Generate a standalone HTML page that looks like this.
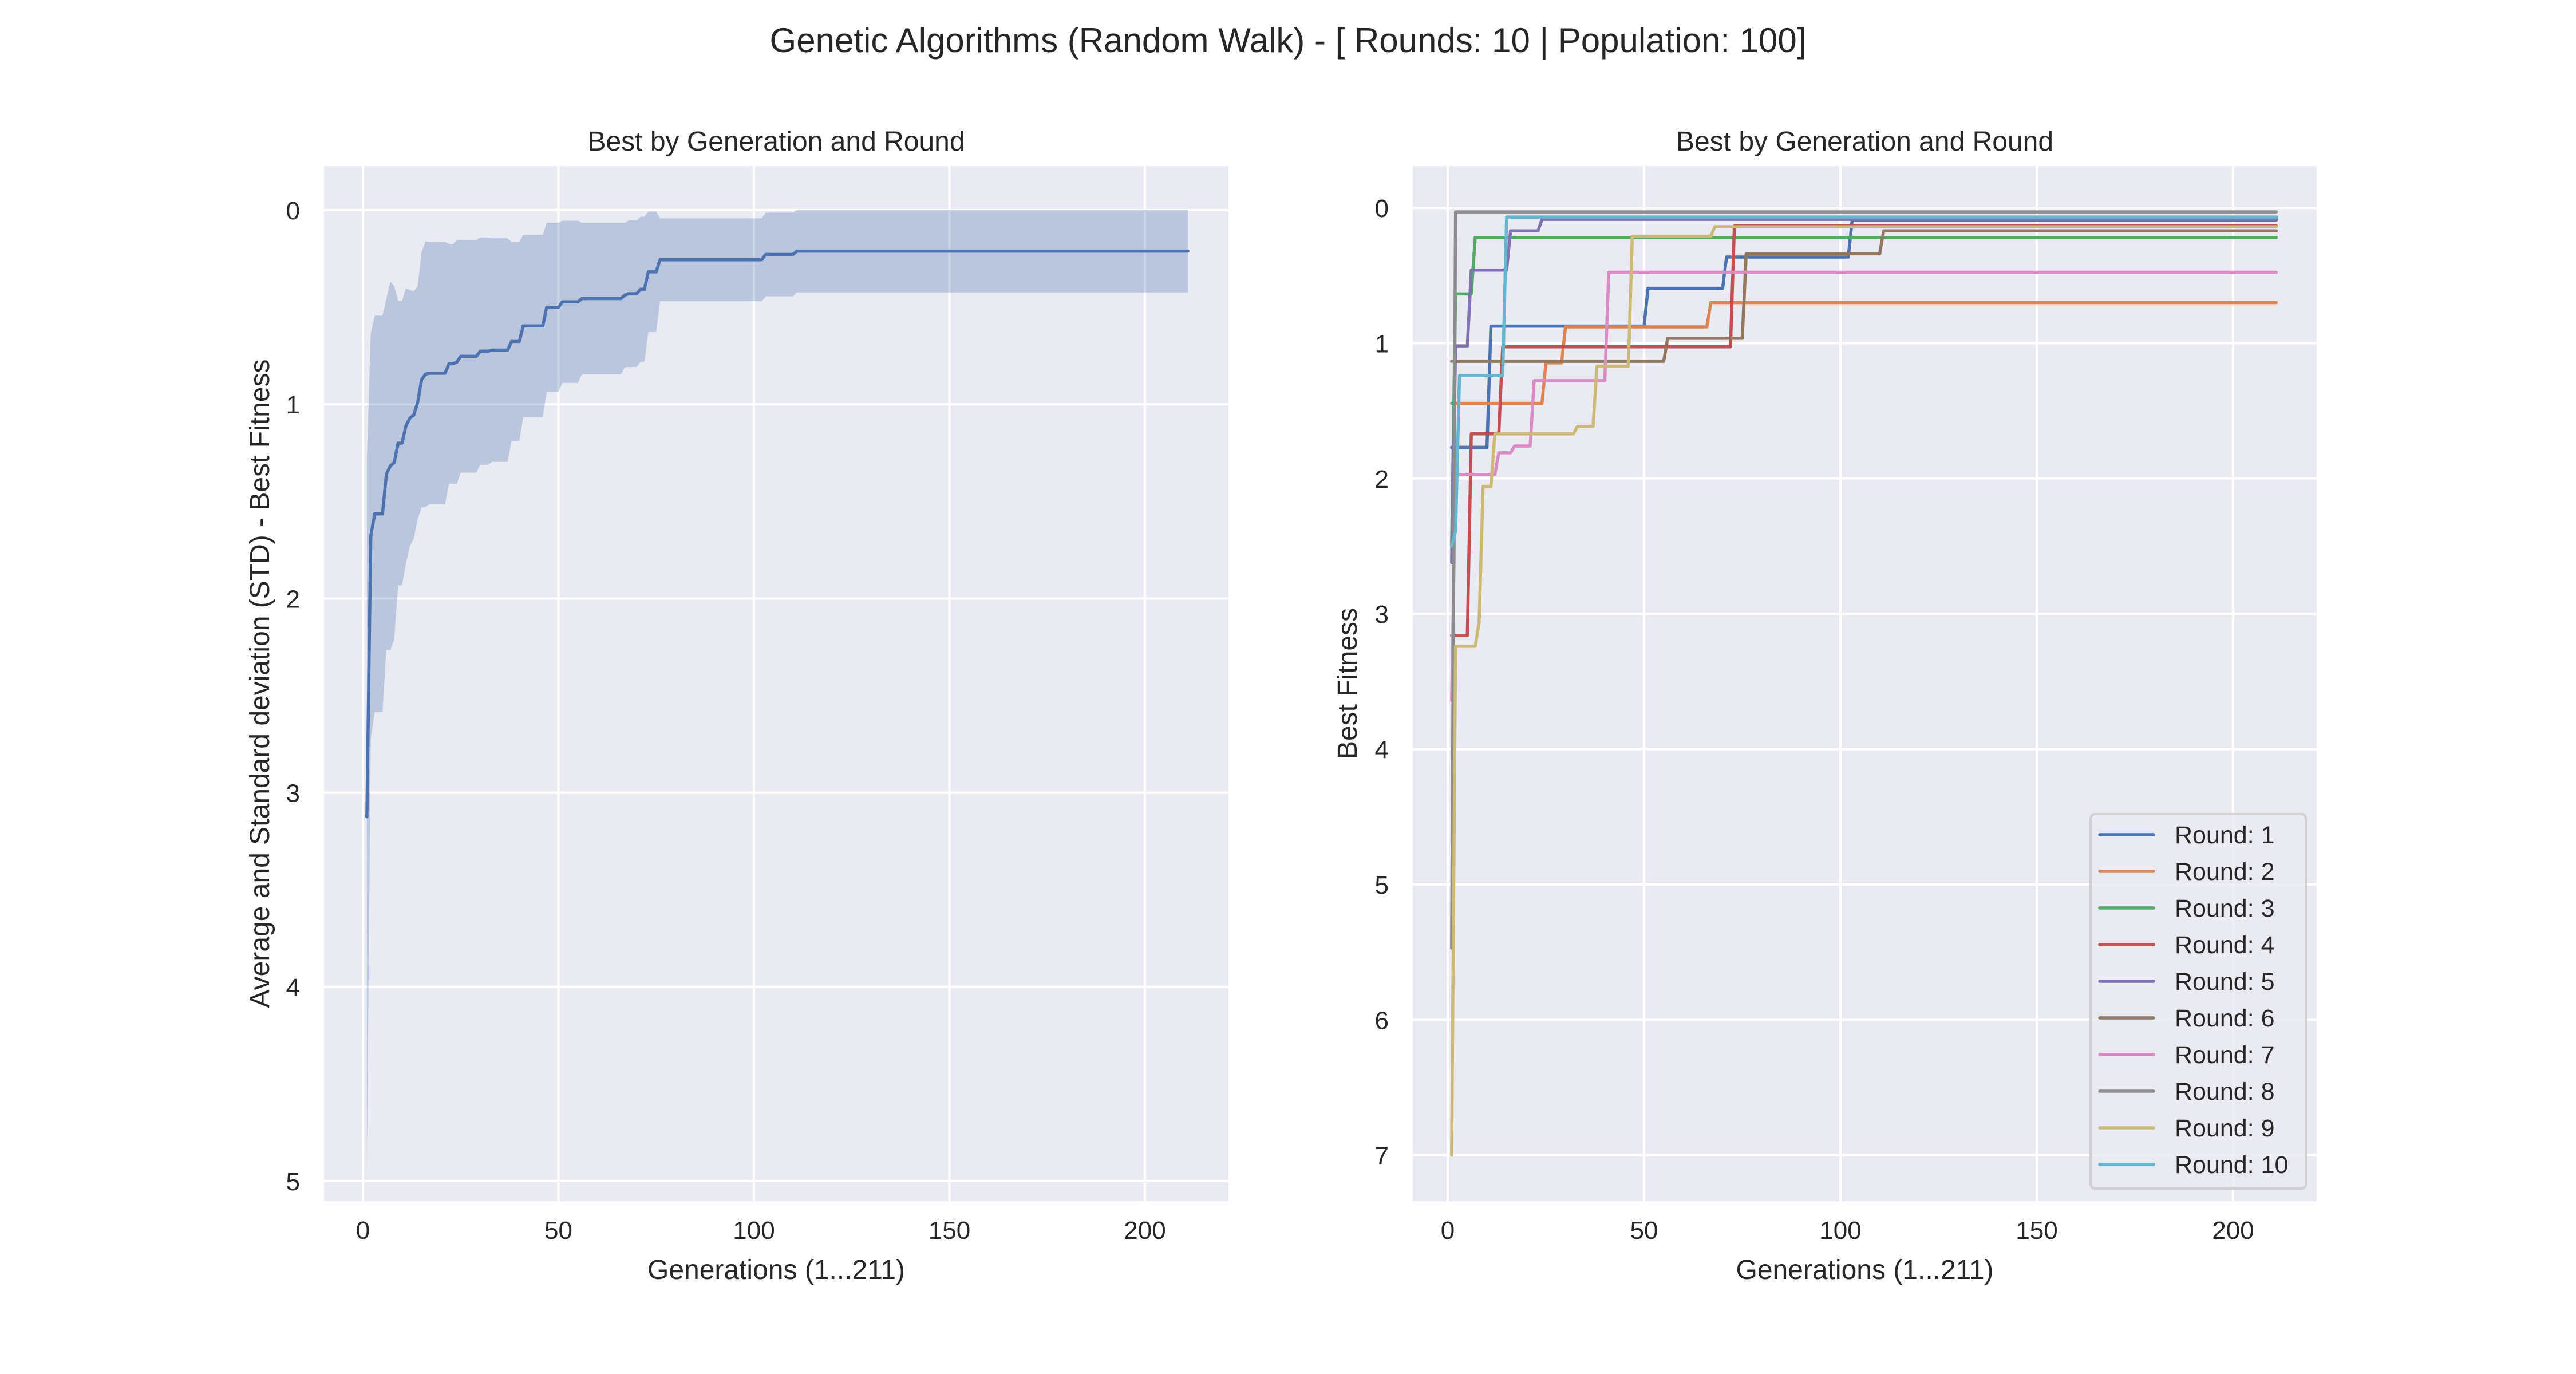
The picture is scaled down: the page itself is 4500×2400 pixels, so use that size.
<!DOCTYPE html>
<html><head><meta charset="utf-8"><title>Genetic Algorithms chart</title>
<style>html,body{margin:0;padding:0;background:#fff;}svg{display:block;font-family:"Liberation Sans",sans-serif;}</style>
</head><body>
<svg id="fig" xmlns="http://www.w3.org/2000/svg" width="4500" height="2400" viewBox="0 0 4500 2400">
<rect width="4500" height="2400" fill="#ffffff"/>
<text x="2250" y="91" font-size="60" fill="#262626" text-anchor="middle">Genetic Algorithms (Random Walk) - [ Rounds: 10 | Population: 100]</text>
</svg>
<script>
// ---- data: step change points (generation, best fitness) per round ----
const r1Gens=[1,11,51,71,103];      const r1Vals=[1.77,0.874,0.595,0.364,0.09];
const r2Gens=[1,25,30,67];          const r2Vals=[1.445,1.146,0.88,0.70];
const r3Gens=[1,2,7];               const r3Vals=[2.5,0.636,0.219];
const r4Gens=[1,6,14,73];           const r4Vals=[3.16,1.67,1.027,0.134];
const r5Gens=[1,2,6,16,24];         const r5Vals=[2.62,1.02,0.46,0.17,0.085];
const r6Gens=[1,56,76,111];         const r6Vals=[1.134,0.964,0.34,0.17];
const r7Gens=[1,2,13,17,22,41];     const r7Vals=[3.64,1.97,1.81,1.76,1.277,0.476];
const r8Gens=[1,2];                 const r8Vals=[5.47,0.03];
const r9Gens=[1,2,8,9,12,33,38,47,68]; const r9Vals=[7.0,3.24,3.06,2.06,1.67,1.615,1.17,0.21,0.14];
const r10Gens=[1,2,3,15];           const r10Vals=[2.5,2.39,1.24,0.068];
const roundLabels=["Round: 1","Round: 2","Round: 3","Round: 4","Round: 5","Round: 6","Round: 7","Round: 8","Round: 9","Round: 10"];
const numGenerations=211;
const xTicks=[0,50,100,150,200];
const yTicksLeft=[0,1,2,3,4,5];
const yTicksRight=[0,1,2,3,4,5,6,7];

const palette=["#4C72B0","#DD8452","#55A868","#C44E52","#8172B3","#937860","#DA8BC3","#8C8C8C","#CCB974","#64B5CD"];
const NS="http://www.w3.org/2000/svg";
const svg=document.getElementById('fig');
function el(tag,attrs,parent){const e=document.createElementNS(NS,tag);for(const k in attrs)e.setAttribute(k,attrs[k]);(parent||svg).appendChild(e);return e;}

const allGens=[r1Gens,r2Gens,r3Gens,r4Gens,r5Gens,r6Gens,r7Gens,r8Gens,r9Gens,r10Gens];
const allVals=[r1Vals,r2Vals,r3Vals,r4Vals,r5Vals,r6Vals,r7Vals,r8Vals,r9Vals,r10Vals];
function expand(g,v){const out=[];let k=0;for(let gen=1;gen<=numGenerations;gen++){while(k+1<g.length&&g[k+1]<=gen)k++;out.push(v[k]);}return out;}
const series=allGens.map((g,i)=>expand(g,allVals[i]));

const L={x0:566,x1:2146,y0:290,y1:2098,gx0:634,gx200:2000,v0:367,vPer:339.2};
const R={x0:2468,x1:4047,y0:290,y1:2098,gx0:2529,gx200:3901,v0:363,vPer:236.4};
function sx(A,g){return A.gx0+(A.gx200-A.gx0)*g/200;}
function sy(A,v){return A.v0+v*A.vPer;}

function drawAxes(A,yTicks,name,title,ylabel,ylabelX){
  const g=el('g',{});
  
  
  const bg=el('rect',{x:A.x0,y:A.y0,width:A.x1-A.x0,height:A.y1-A.y0,fill:"#EAEAF2"},g);
  
  
  xTicks.forEach(t=>{
    const x=sx(A,t);
    const gl=el('line',{x1:x,x2:x,y1:A.y0,y2:A.y1,stroke:"#fff","stroke-width":4},g);
    
    
    const tl=el('text',{x:x,y:2164,"font-size":44,fill:"#262626","text-anchor":"middle"},g);
    tl.textContent=t;
    
    
  });
  yTicks.forEach(t=>{
    const y=sy(A,t);
    const gl=el('line',{x1:A.x0,x2:A.x1,y1:y,y2:y,stroke:"#fff","stroke-width":4},g);
    
    
    const tl=el('text',{x:A.x0-42,y:y+16,"font-size":44,fill:"#262626","text-anchor":"end"},g);
    tl.textContent=t;
    
    
  });
  const tt=el('text',{x:(A.x0+A.x1)/2,y:263,"font-size":48,fill:"#262626","text-anchor":"middle"});
  tt.textContent=title;
  
  
  const xl=el('text',{x:(A.x0+A.x1)/2,y:2234,"font-size":48,fill:"#262626","text-anchor":"middle"});
  xl.textContent="Generations (1...211)";
  
  
  const cy=(A.y0+A.y1)/2;
  const yl=el('text',{x:ylabelX,y:cy,"font-size":48,fill:"#262626","text-anchor":"middle",transform:`rotate(-90 ${ylabelX} ${cy})`});
  yl.textContent=ylabel;
  
  
}

drawAxes(L,yTicksLeft,'left-axes',"Best by Generation and Round","Average and Standard deviation (STD) - Best Fitness",470);
drawAxes(R,yTicksRight,'right-axes',"Best by Generation and Round","Best Fitness",2370);

const means=[],sds=[];
for(let i=0;i<numGenerations;i++){
  const vals=series.map(s=>s[i]);
  const m=vals.reduce((a,b)=>a+b,0)/vals.length;
  const sd=Math.sqrt(vals.reduce((a,b)=>a+(b-m)*(b-m),0)/(vals.length-1));
  means.push(m);sds.push(sd);
}
let up=[],dn=[];
for(let i=0;i<numGenerations;i++){const x=sx(L,i+1);up.push(x+','+sy(L,means[i]-sds[i]));dn.push(x+','+sy(L,means[i]+sds[i]));}
const clipL=el('clipPath',{id:'clipL'});el('rect',{x:L.x0,y:L.y0,width:L.x1-L.x0,height:L.y1-L.y0},clipL);
const band=el('polygon',{points:up.concat(dn.reverse()).join(' '),fill:"#4C72B0","fill-opacity":0.3,stroke:"none","clip-path":"url(#clipL)"});


const meanLine=el('polyline',{points:means.map((m,i)=>sx(L,i+1)+','+sy(L,m)).join(' '),fill:"none",stroke:"#4C72B0","stroke-width":5.5,"stroke-linejoin":"round","stroke-linecap":"round"});



series.forEach((s,r)=>{
  const pl=el('polyline',{points:s.map((v,i)=>sx(R,i+1)+','+sy(R,v)).join(' '),fill:"none",stroke:palette[r],"stroke-width":5.5,"stroke-linejoin":"round","stroke-linecap":"round"});
  
  
});

const lg=el('g',{});


el('rect',{x:3652,y:1422,width:376,height:654,rx:8,fill:"#EAEAF2","fill-opacity":0.8,stroke:"#d0d0d0","stroke-width":4},lg);
roundLabels.forEach((lab,i)=>{
  const y=1458+i*64;
  const ent=el('g',{},lg);
  
  
  el('line',{x1:3668,x2:3762,y1:y,y2:y,stroke:palette[i],"stroke-width":5.5,"stroke-linecap":"round"},ent);
  const t=el('text',{x:3799,y:y+15,"font-size":43,fill:"#262626"},ent);
  t.textContent=lab;
});
</script>
</body></html>
